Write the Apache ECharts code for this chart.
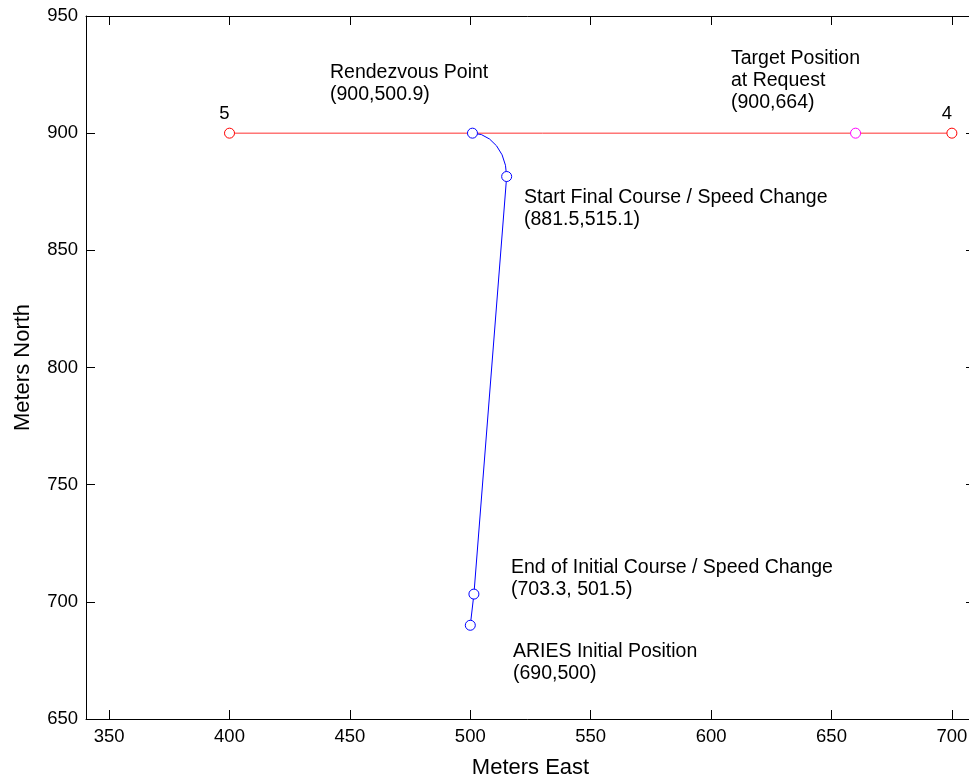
<!DOCTYPE html>
<html>
<head>
<meta charset="utf-8">
<script src="https://cdn.jsdelivr.net/npm/echarts@6/dist/echarts.min.js"></script>
<style>
html,body{margin:0;padding:0;background:#fff;}
#chart{width:969px;height:780px;}
</style>
</head>
<body>
<div id="chart"></div>
<script>
// ---- data ----
const targetLineEast = [400, 660, 700];
const targetLineNorth = [900, 900, 900];
const endpointEast = [400, 700];
const endpointNorth = [900, 900];
const endpointLabels = ['5', '4'];
const targetEast = [660];
const targetNorth = [900];
const pathEast = [500, 501.5, 515.1, 514.6, 513.2, 510.9, 508.0, 504.6, 500.9];
const pathNorth = [690, 703.3, 881.5, 886.3, 890.75, 894.6, 897.5, 899.4, 900];
const keyEast = [500, 501.5, 515.1, 500.9];
const keyNorth = [690, 703.3, 881.5, 900];
const xTicks = [350, 400, 450, 500, 550, 600, 650, 700];
const yTicks = [650, 700, 750, 800, 850, 900, 950];
const annotations = [
  ['Rendezvous Point', '(900,500.9)'],
  ['Target Position', 'at Request', '(900,664)'],
  ['Start Final Course / Speed Change', '(881.5,515.1)'],
  ['End of Initial Course / Speed Change', '(703.3, 501.5)'],
  ['ARIES Initial Position', '(690,500)']
];

const zip = (a, b) => a.map((v, i) => [v, b[i]]);
const FONT = 'Liberation Sans, Arial, sans-serif';

const chart = echarts.init(document.getElementById('chart'), null, {renderer: 'canvas'});

const axisCommon = {
  axisLine: {show: true, onZero: false, lineStyle: {color: '#000', width: 1}},
  axisTick: {show: true, inside: true, length: 9, lineStyle: {color: '#000', width: 1}},
  splitLine: {show: false}
};

// annotation placement (pixel positions of text blocks)
const annPos = [[330, 62], [731, 48], [524, 187], [511, 557], [513, 641]];

const option = {
  animation: false,
  backgroundColor: '#fff',
  grid: {left: 86, top: 16, right: -6, bottom: 61, containLabel: false, outerBoundsMode: 'none'},
  xAxis: [
    Object.assign({}, axisCommon, {
      type: 'value', min: 340.4, max: 709.6, position: 'bottom',
      name: 'Meters East', nameLocation: 'middle', nameGap: 38,
      nameTextStyle: {fontFamily: FONT, fontSize: 22, color: '#000'},
      axisTick: Object.assign({}, axisCommon.axisTick, {customValues: xTicks}),
      axisLabel: {customValues: xTicks, margin: 8, fontFamily: FONT, fontSize: 18.5, color: '#000'}
    }),
    Object.assign({}, axisCommon, {
      type: 'value', min: 340.4, max: 709.6, position: 'top',
      axisTick: Object.assign({}, axisCommon.axisTick, {customValues: xTicks}),
      axisLabel: {show: false}
    })
  ],
  yAxis: [
    Object.assign({}, axisCommon, {
      type: 'value', min: 650, max: 950, position: 'left',
      name: 'Meters North', nameLocation: 'middle', nameGap: 52,
      nameTextStyle: {fontFamily: FONT, fontSize: 22, color: '#000'},
      axisTick: Object.assign({}, axisCommon.axisTick, {customValues: yTicks}),
      axisLabel: {customValues: yTicks, margin: 8, fontFamily: FONT, fontSize: 18.5, color: '#000'}
    }),
    Object.assign({}, axisCommon, {
      type: 'value', min: 650, max: 950, position: 'right',
      axisTick: Object.assign({}, axisCommon.axisTick, {customValues: yTicks}),
      axisLabel: {show: false}
    })
  ],
  series: [
    {
      type: 'line', data: zip(targetLineEast, targetLineNorth), showSymbol: false,
      lineStyle: {color: '#ff3030', width: 1}, silent: true, z: 2
    },
    {
      type: 'scatter', data: zip(endpointEast, endpointNorth).map((p, i) => ({value: p, label: {formatter: endpointLabels[i]}})),
      symbol: 'circle', symbolSize: 10,
      itemStyle: {color: '#fff', borderColor: '#ff0000', borderWidth: 1, opacity: 1},
      label: {show: true, position: 'top', distance: 4, offset: [-5, 0], fontFamily: FONT, fontSize: 18.5, color: '#000'},
      z: 3
    },
    {
      type: 'scatter', data: zip(targetEast, targetNorth),
      symbol: 'circle', symbolSize: 10,
      itemStyle: {color: '#fff', borderColor: '#ff00ff', borderWidth: 1, opacity: 1}, z: 3
    },
    {
      type: 'line', data: zip(pathEast, pathNorth), showSymbol: false, smooth: false,
      lineStyle: {color: '#0000ff', width: 1}, silent: true, z: 4
    },
    {
      type: 'scatter', data: zip(keyEast, keyNorth),
      symbol: 'circle', symbolSize: 10,
      itemStyle: {color: '#fff', borderColor: '#0000ff', borderWidth: 1, opacity: 1}, z: 5
    }
  ],
  graphic: annotations.map((lines, i) => ({
    type: 'text', left: annPos[i][0], top: annPos[i][1], z: 10,
    style: {text: lines.join('\n'), fontFamily: FONT, fontSize: 19.5, lineHeight: 22, fill: '#000'}
  }))
};

chart.setOption(option);
</script>
</body>
</html>
